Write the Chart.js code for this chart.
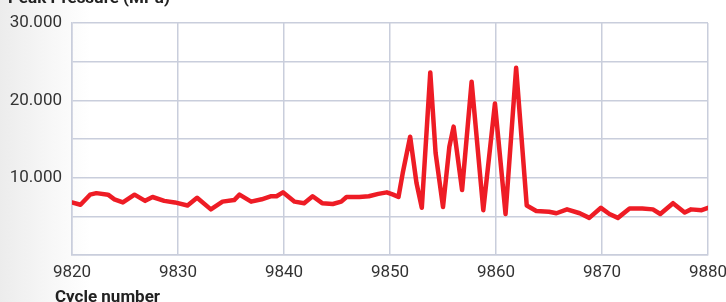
<!DOCTYPE html>
<html>
<head>
<meta charset="utf-8">
<script src="https://cdn.jsdelivr.net/npm/chart.js@4"></script>
<style>
  body { margin: 0; background: linear-gradient(to right, #ececec 0px, #f7f7f7 50px, #ffffff 90px); }
  canvas { display: block; }
</style>
</head>
<body>
<canvas id="peak_pressure" width="726" height="302"></canvas>
<script>
// Peak pressure per cycle
var cycles = [9820.0, 9820.8, 9821.7, 9822.3, 9823.4, 9824.0, 9824.8, 9825.9, 9826.9, 9827.6,
  9828.7, 9829.7, 9830.9, 9831.8, 9833.1, 9834.2, 9835.3, 9835.8, 9836.9, 9837.9,
  9838.8, 9839.3, 9839.9, 9841.0, 9841.9, 9842.7, 9843.6, 9844.6, 9845.4, 9845.9,
  9847.1, 9848.0, 9848.9, 9849.7, 9850.3, 9850.8, 9851.2, 9851.9, 9852.5, 9853.0,
  9853.8, 9854.3, 9855.0, 9855.6, 9856.0, 9856.8, 9857.7, 9858.8, 9859.9, 9860.9,
  9861.9, 9862.9, 9863.8, 9865.0, 9865.7, 9866.7, 9867.9, 9868.8, 9869.9, 9870.7,
  9871.5, 9872.6, 9873.8, 9874.8, 9875.5, 9876.7, 9877.8, 9878.4, 9879.4, 9880.0];
var pressure = [6.8, 6.5, 7.8, 8.0, 7.8, 7.2, 6.8, 7.8, 7.0, 7.5,
  7.0, 6.8, 6.4, 7.4, 5.9, 6.9, 7.1, 7.8, 6.9, 7.2,
  7.6, 7.6, 8.1, 6.9, 6.7, 7.6, 6.7, 6.6, 6.9, 7.5,
  7.5, 7.6, 7.9, 8.1, 7.8, 7.5, 10.6, 15.3, 9.3, 6.1,
  23.6, 13.2, 6.2, 14.0, 16.6, 8.4, 22.4, 5.8, 19.6, 5.3,
  24.2, 6.4, 5.7, 5.6, 5.4, 5.9, 5.4, 4.8, 6.1, 5.3,
  4.8, 6.0, 6.0, 5.9, 5.3, 6.7, 5.5, 5.9, 5.8, 6.1];
var xTicks = [9820, 9830, 9840, 9850, 9860, 9870, 9880];
var yLabelled = [10, 20, 30];

var points = cycles.map(function (c, i) { return { x: c, y: pressure[i] }; });

var gridColor = '#c9cedc';

// 軸タイトル
var axisTitles = {
  id: 'axisTitles',
  afterDraw: function (chart) {
    var c = chart.ctx;
    c.save();
    c.fillStyle = '#222';
    c.font = 'bold 17px Roboto';
    c.textBaseline = 'alphabetic';
    c.fillText('Peak Pressure (MPa)', 8, 3);
    c.fillText('Cycle number', 55, 302);
    c.restore();
  }
};

var ctx = document.getElementById('peak_pressure');
var myChart = new Chart(ctx, {
  type: 'line',
  data: {
    datasets: [{
      data: points,
      borderColor: '#ee1c25',
      borderWidth: 4.5,
      pointRadius: 0,
      tension: 0,
      borderJoinStyle: 'round',
      borderCapStyle: 'round'
    }]
  },
  options: {
    responsive: false,
    animation: false,
    layout: { padding: { top: 23, right: 0, left: 0, bottom: 0 } },
    plugins: {
      legend: { display: false },
      tooltip: { enabled: false }
    },
    scales: {
      x: {
        type: 'linear',
        min: 9820,
        max: 9880,
        afterBuildTicks: function (scale) {
          scale.ticks = xTicks.map(function (v) { return { value: v }; });
        },
        afterFit: function (scale) {
          scale.height = 47;
          scale.paddingLeft = 0;
          scale.paddingRight = 18;
        },
        grid: { color: gridColor, lineWidth: 1.5, drawTicks: false },
        border: { color: gridColor, width: 1.5 },
        ticks: {
          padding: 8,
          color: '#333',
          font: { family: 'Roboto', size: 17 },
          maxRotation: 0,
          callback: function (v) { return String(v); }
        }
      },
      y: {
        min: 0,
        max: 30,
        afterFit: function (scale) { scale.width = 72; },
        grid: { color: gridColor, lineWidth: 1.5, drawTicks: false },
        border: { color: gridColor, width: 1.5 },
        ticks: {
          stepSize: 5,
          padding: 10,
          color: '#333',
          font: { family: 'Roboto', size: 17 },
          callback: function (v) {
            return yLabelled.indexOf(v) >= 0 ? v.toFixed(3) : '';
          }
        }
      }
    }
  },
  plugins: [axisTitles]
});
</script>
</body>
</html>
